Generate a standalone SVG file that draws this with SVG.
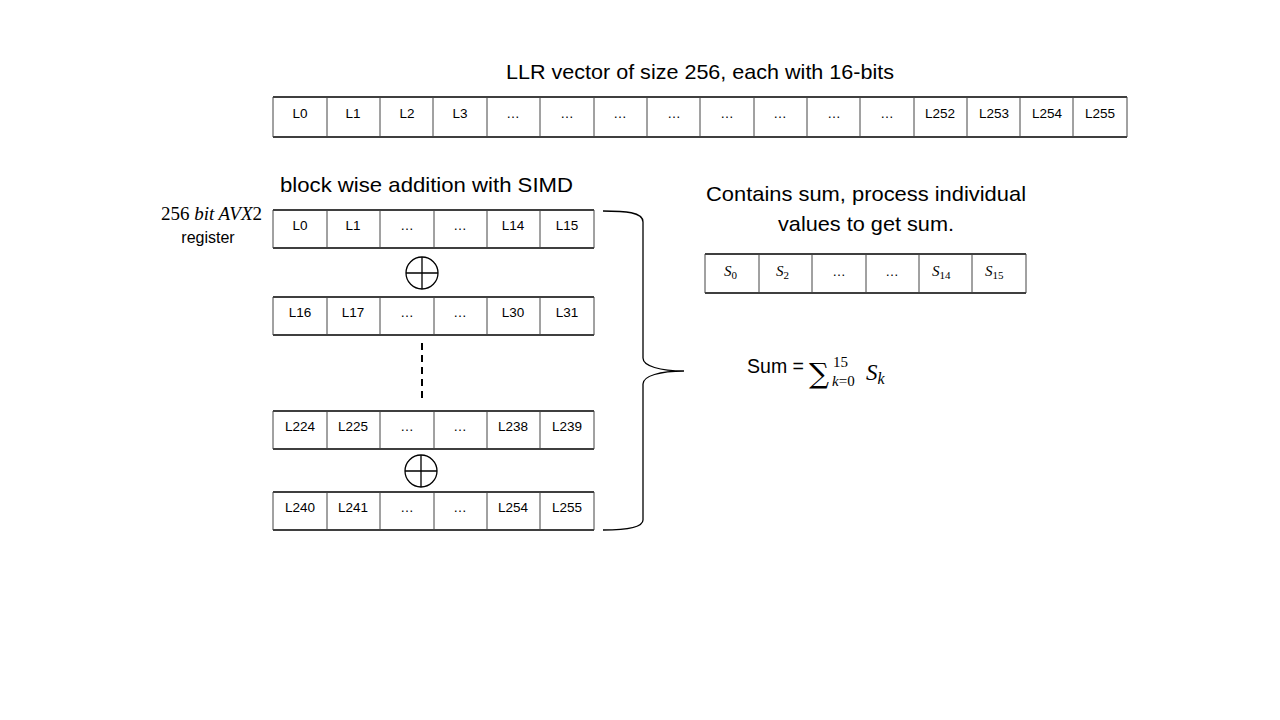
<svg xmlns="http://www.w3.org/2000/svg" width="1280" height="720" viewBox="0 0 1280 720">
<style>
.h{stroke:#000;stroke-width:1.3;fill:none}
.v{stroke:#444;stroke-width:1;fill:none}
.c{font-family:"Liberation Sans",Arial,sans-serif;font-size:13.5px;fill:#000;text-anchor:middle}
.t{font-family:"Liberation Sans",Arial,sans-serif;font-size:21px;fill:#000}
.m{font-family:"Liberation Serif","DejaVu Serif",serif;font-style:italic;fill:#000}
</style>
<rect width="1280" height="720" fill="#fff"/>
<text class="t" x="506" y="79" textLength="388" lengthAdjust="spacingAndGlyphs">LLR vector of size 256, each with 16-bits</text>
<g id="llr-vector">
<path class="h" d="M273,97H1127M273,137H1127"/>
<path class="v" d="M273,97V137M327,97V137M380,97V137M433,97V137M487,97V137M540,97V137M594,97V137M647,97V137M700,97V137M754,97V137M807,97V137M860,97V137M914,97V137M967,97V137M1020,97V137M1073,97V137M1127,97V137"/>
<text class="c" x="300" y="118">L0</text><text class="c" x="353" y="118">L1</text><text class="c" x="407" y="118">L2</text><text class="c" x="460" y="118">L3</text>
<text class="c" x="513" y="118">…</text><text class="c" x="567" y="118">…</text><text class="c" x="620" y="118">…</text><text class="c" x="674" y="118">…</text>
<text class="c" x="727" y="118">…</text><text class="c" x="780" y="118">…</text><text class="c" x="834" y="118">…</text><text class="c" x="887" y="118">…</text>
<text class="c" x="940" y="118">L252</text><text class="c" x="994" y="118">L253</text><text class="c" x="1047" y="118">L254</text><text class="c" x="1100" y="118">L255</text>
</g>
<text class="t" x="280" y="192" textLength="293" lengthAdjust="spacingAndGlyphs">block wise addition with SIMD</text>
<g id="register-label">
<text x="262" y="220" text-anchor="end" font-size="19" font-family="Liberation Serif,serif"><tspan>256 </tspan><tspan class="m">bit AVX</tspan><tspan>2</tspan></text>
<text x="208" y="243" text-anchor="middle" font-family="Liberation Sans,Arial,sans-serif" font-size="16">register</text>
</g>
<g id="row0">
<path class="h" d="M273,210H594M273,248H594"/>
<path class="v" d="M273,210V248M327,210V248M380,210V248M434,210V248M487,210V248M540,210V248M594,210V248"/>
<text class="c" x="300" y="230">L0</text><text class="c" x="353" y="230">L1</text><text class="c" x="407" y="230">…</text><text class="c" x="460" y="230">…</text><text class="c" x="513" y="230">L14</text><text class="c" x="567" y="230">L15</text>
</g>
<g id="plus1"><circle cx="422" cy="273" r="16" class="h" stroke-width="1"/><path class="h" stroke-width="1" d="M406,273H438M422,257V289"/></g>
<g id="row1">
<path class="h" d="M273,297H594M273,335H594"/>
<path class="v" d="M273,297V335M327,297V335M380,297V335M434,297V335M487,297V335M540,297V335M594,297V335"/>
<text class="c" x="300" y="317">L16</text><text class="c" x="353" y="317">L17</text><text class="c" x="407" y="317">…</text><text class="c" x="460" y="317">…</text><text class="c" x="513" y="317">L30</text><text class="c" x="567" y="317">L31</text>
</g>
<g id="connectors">
<path d="M422,343V402" stroke="#000" stroke-width="2" stroke-dasharray="7,5" fill="none"/>
<path d="M603,211C625,211 643,212 643,222V358C643,366 660,371 684,371C660,371 643,376 643,384V520C643,528 625,530 603,530" stroke="#000" stroke-width="1.3" fill="none"/>
</g>
<g id="row14">
<path class="h" d="M273,411H594M273,449H594"/>
<path class="v" d="M273,411V449M327,411V449M380,411V449M434,411V449M487,411V449M540,411V449M594,411V449"/>
<text class="c" x="300" y="431">L224</text><text class="c" x="353" y="431">L225</text><text class="c" x="407" y="431">…</text><text class="c" x="460" y="431">…</text><text class="c" x="513" y="431">L238</text><text class="c" x="567" y="431">L239</text>
</g>
<g id="plus2"><circle cx="421" cy="471" r="16" class="h" stroke-width="1"/><path class="h" stroke-width="1" d="M405,471H437M421,455V487"/></g>
<g id="row15">
<path class="h" d="M273,492H594M273,530H594"/>
<path class="v" d="M273,492V530M327,492V530M380,492V530M434,492V530M487,492V530M540,492V530M594,492V530"/>
<text class="c" x="300" y="512">L240</text><text class="c" x="353" y="512">L241</text><text class="c" x="407" y="512">…</text><text class="c" x="460" y="512">…</text><text class="c" x="513" y="512">L254</text><text class="c" x="567" y="512">L255</text>
</g>
<g id="sum-caption">
<text class="t" x="706" y="201" textLength="320" lengthAdjust="spacingAndGlyphs">Contains sum, process individual</text>
<text class="t" x="778" y="231" textLength="176" lengthAdjust="spacingAndGlyphs">values to get sum.</text>
</g>
<g id="sum-vector">
<path class="h" d="M705,254H1026M705,293H1026"/>
<path class="v" d="M705,254V293M759,254V293M812,254V293M866,254V293M919,254V293M972,254V293M1026,254V293"/>
<text class="m" x="724" y="276" font-size="15">S<tspan font-style="normal" font-size="11" dy="3">0</tspan></text>
<text class="m" x="776" y="276" font-size="15">S<tspan font-style="normal" font-size="11" dy="3">2</tspan></text>
<text class="c" x="839" y="276">…</text><text class="c" x="892" y="276">…</text>
<text class="m" x="932" y="276" font-size="15">S<tspan font-style="normal" font-size="11" dy="3">14</tspan></text>
<text class="m" x="985" y="276" font-size="15">S<tspan font-style="normal" font-size="11" dy="3">15</tspan></text>
</g>
<g id="sum-formula">
<text class="t" x="747" y="373" textLength="57" lengthAdjust="spacingAndGlyphs">Sum =</text>
<text x="809" y="383" font-family="DejaVu Serif,serif" font-size="28">∑</text>
<text x="833" y="367" font-family="Liberation Serif,serif" font-size="15">15</text>
<text x="832" y="386" font-family="Liberation Serif,serif" font-size="15"><tspan font-style="italic">k</tspan>=0</text>
<text class="m" x="866" y="380" font-size="23">S<tspan font-size="16" dy="4">k</tspan></text>
</g>
</svg>
